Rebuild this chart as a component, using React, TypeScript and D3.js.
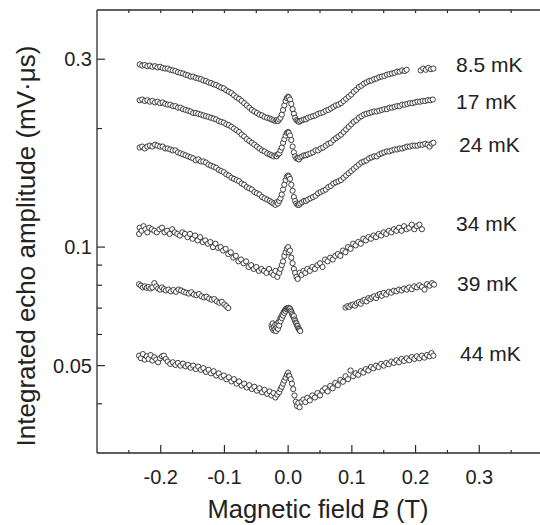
import React from 'react';
import * as d3 from 'd3';

// ---------- DATA (B in tesla, amplitude in mV·μs) ----------
const T85: [number, number][] = [
  [-0.233,0.291],[-0.229,0.289],[-0.225,0.290],[-0.221,0.288],[-0.217,0.289],[-0.213,0.287],[-0.209,0.288],[-0.205,0.286],[-0.201,0.287],[-0.197,0.285],
  [-0.193,0.284],[-0.189,0.284],[-0.185,0.282],[-0.181,0.281],[-0.177,0.280],[-0.173,0.278],[-0.169,0.277],[-0.165,0.276],[-0.161,0.274],[-0.157,0.273],
  [-0.153,0.271],[-0.149,0.271],[-0.145,0.269],[-0.141,0.268],[-0.137,0.267],[-0.133,0.265],[-0.129,0.264],[-0.125,0.262],[-0.121,0.261],[-0.117,0.259],
  [-0.113,0.258],[-0.109,0.256],[-0.105,0.254],[-0.101,0.253],[-0.097,0.250],[-0.093,0.248],[-0.089,0.246],[-0.085,0.243],[-0.081,0.240],[-0.077,0.238],
  [-0.073,0.235],[-0.069,0.232],[-0.065,0.229],[-0.061,0.226],[-0.057,0.223],[-0.053,0.221],[-0.049,0.219],[-0.045,0.217],[-0.041,0.216],[-0.037,0.214],
  [-0.033,0.213],[-0.029,0.212],[-0.026,0.211],[-0.023,0.210],[-0.020,0.209],[-0.018,0.210],[-0.016,0.209],[-0.014,0.211],[-0.012,0.213],[-0.010,0.217],
  [-0.008,0.223],[-0.006,0.229],[-0.004,0.235],[-0.002,0.239],[0.000,0.241],[0.001,0.240],[0.003,0.237],[0.005,0.231],[0.007,0.224],[0.009,0.218],
  [0.011,0.213],[0.013,0.210],[0.015,0.209],[0.017,0.208],[0.019,0.209],[0.022,0.210],[0.025,0.211],[0.028,0.211],[0.031,0.213],[0.035,0.214],
  [0.039,0.215],[0.043,0.216],[0.047,0.218],[0.051,0.219],[0.055,0.220],[0.059,0.222],[0.063,0.223],[0.067,0.225],[0.071,0.227],[0.075,0.229],
  [0.079,0.230],[0.083,0.232],[0.087,0.235],[0.091,0.238],[0.095,0.241],[0.099,0.244],[0.103,0.248],[0.107,0.251],[0.111,0.255],[0.115,0.257],
  [0.119,0.260],[0.123,0.262],[0.127,0.264],[0.131,0.265],[0.135,0.267],[0.139,0.268],[0.143,0.270],[0.147,0.271],[0.151,0.272],[0.155,0.274],
  [0.159,0.275],[0.163,0.276],[0.167,0.277],[0.171,0.279],[0.175,0.279],[0.179,0.281],[0.183,0.280],[0.186,0.282],
  [0.208,0.281],[0.212,0.284],[0.216,0.282],[0.220,0.285],[0.224,0.283],[0.228,0.284],
];

const T17: [number, number][] = [
  [-0.233,0.236],[-0.229,0.237],[-0.225,0.235],[-0.221,0.236],[-0.217,0.234],[-0.213,0.235],[-0.209,0.233],[-0.205,0.234],[-0.201,0.232],[-0.197,0.233],
  [-0.193,0.231],[-0.189,0.230],[-0.185,0.230],[-0.181,0.228],[-0.177,0.228],[-0.173,0.226],[-0.169,0.226],[-0.165,0.224],[-0.161,0.223],[-0.157,0.222],
  [-0.153,0.221],[-0.149,0.219],[-0.145,0.219],[-0.141,0.218],[-0.137,0.217],[-0.133,0.216],[-0.129,0.215],[-0.125,0.214],[-0.121,0.213],[-0.117,0.212],
  [-0.113,0.211],[-0.109,0.209],[-0.105,0.208],[-0.101,0.207],[-0.097,0.205],[-0.093,0.204],[-0.089,0.202],[-0.085,0.200],[-0.081,0.198],[-0.077,0.196],
  [-0.073,0.193],[-0.069,0.191],[-0.065,0.188],[-0.061,0.186],[-0.057,0.184],[-0.053,0.182],[-0.049,0.180],[-0.045,0.178],[-0.041,0.176],[-0.037,0.175],
  [-0.033,0.173],[-0.029,0.172],[-0.026,0.171],[-0.023,0.170],[-0.020,0.171],[-0.018,0.170],[-0.016,0.172],[-0.014,0.173],[-0.012,0.176],[-0.010,0.179],
  [-0.008,0.184],[-0.006,0.188],[-0.004,0.192],[-0.002,0.195],[0.000,0.196],[0.001,0.195],[0.003,0.192],[0.005,0.187],[0.007,0.180],[0.009,0.174],
  [0.011,0.170],[0.013,0.168],[0.015,0.168],[0.017,0.167],[0.019,0.169],[0.022,0.170],[0.025,0.171],[0.028,0.171],[0.031,0.172],[0.035,0.173],
  [0.039,0.174],[0.043,0.176],[0.047,0.176],[0.051,0.178],[0.055,0.179],[0.059,0.181],[0.063,0.183],[0.067,0.184],[0.071,0.187],[0.075,0.189],
  [0.079,0.191],[0.083,0.193],[0.087,0.196],[0.091,0.199],[0.095,0.202],[0.099,0.205],[0.103,0.208],[0.107,0.210],[0.111,0.213],[0.115,0.215],
  [0.119,0.217],[0.123,0.218],[0.127,0.219],[0.131,0.220],[0.135,0.221],[0.139,0.221],[0.143,0.222],[0.147,0.223],[0.151,0.224],[0.155,0.224],
  [0.159,0.226],[0.163,0.226],[0.167,0.227],[0.171,0.228],[0.175,0.228],[0.179,0.230],[0.183,0.230],[0.187,0.231],[0.191,0.232],[0.195,0.232],
  [0.199,0.233],[0.203,0.234],[0.207,0.234],[0.211,0.235],[0.215,0.235],[0.219,0.236],[0.223,0.236],[0.227,0.237],
];

const T24: [number, number][] = [
  [-0.233,0.179],[-0.229,0.180],[-0.225,0.178],[-0.221,0.180],[-0.217,0.181],[-0.213,0.180],[-0.209,0.182],[-0.205,0.181],[-0.201,0.180],[-0.197,0.180],
  [-0.193,0.178],[-0.189,0.178],[-0.185,0.177],[-0.181,0.176],[-0.177,0.176],[-0.173,0.174],[-0.169,0.173],[-0.165,0.172],[-0.161,0.171],[-0.157,0.170],
  [-0.153,0.169],[-0.149,0.168],[-0.145,0.166],[-0.141,0.167],[-0.137,0.165],[-0.133,0.165],[-0.129,0.164],[-0.125,0.162],[-0.121,0.161],[-0.117,0.160],
  [-0.113,0.159],[-0.109,0.157],[-0.105,0.156],[-0.101,0.155],[-0.097,0.153],[-0.093,0.152],[-0.089,0.150],[-0.085,0.149],[-0.081,0.148],[-0.077,0.147],
  [-0.073,0.145],[-0.069,0.144],[-0.065,0.142],[-0.061,0.141],[-0.057,0.140],[-0.053,0.138],[-0.049,0.137],[-0.045,0.136],[-0.041,0.134],[-0.037,0.133],
  [-0.033,0.132],[-0.029,0.131],[-0.026,0.130],[-0.023,0.129],[-0.020,0.128],[-0.018,0.130],[-0.016,0.129],[-0.014,0.131],[-0.012,0.133],[-0.010,0.136],
  [-0.008,0.140],[-0.006,0.144],[-0.004,0.148],[-0.002,0.151],[0.000,0.152],[0.001,0.151],[0.003,0.149],[0.005,0.144],[0.007,0.139],[0.009,0.134],
  [0.011,0.131],[0.013,0.129],[0.015,0.128],[0.017,0.128],[0.019,0.129],[0.022,0.130],[0.025,0.131],[0.028,0.131],[0.031,0.132],[0.035,0.133],
  [0.039,0.134],[0.043,0.135],[0.047,0.137],[0.051,0.138],[0.055,0.139],[0.059,0.140],[0.063,0.142],[0.067,0.143],[0.071,0.145],[0.075,0.146],
  [0.079,0.147],[0.083,0.148],[0.087,0.150],[0.091,0.152],[0.095,0.154],[0.099,0.156],[0.103,0.158],[0.107,0.160],[0.111,0.162],[0.115,0.164],
  [0.119,0.165],[0.123,0.166],[0.127,0.168],[0.131,0.169],[0.135,0.170],[0.139,0.170],[0.143,0.172],[0.147,0.173],[0.151,0.174],[0.155,0.175],
  [0.159,0.175],[0.163,0.176],[0.167,0.177],[0.171,0.177],[0.175,0.178],[0.179,0.178],[0.183,0.179],[0.187,0.180],[0.191,0.180],[0.195,0.181],
  [0.199,0.181],[0.203,0.181],[0.207,0.182],[0.211,0.182],[0.215,0.183],[0.219,0.182],[0.222,0.180],[0.225,0.183],[0.228,0.184],
];

const T34: [number, number][] = [
  [-0.234,0.108],[-0.233,0.112],[-0.230,0.110],[-0.227,0.113],[-0.224,0.111],[-0.221,0.109],[-0.218,0.112],[-0.214,0.111],[-0.210,0.110],[-0.206,0.109],
  [-0.202,0.111],[-0.198,0.112],[-0.194,0.109],[-0.190,0.110],[-0.186,0.108],[-0.182,0.111],[-0.178,0.109],[-0.174,0.108],[-0.170,0.107],[-0.166,0.109],
  [-0.162,0.108],[-0.158,0.106],[-0.154,0.108],[-0.150,0.105],[-0.146,0.107],[-0.142,0.104],[-0.138,0.106],[-0.134,0.103],[-0.130,0.104],[-0.126,0.102],
  [-0.122,0.103],[-0.118,0.100],[-0.114,0.102],[-0.110,0.0995],[-0.106,0.100],[-0.102,0.098],[-0.098,0.099],[-0.094,0.096],[-0.090,0.097],[-0.086,0.094],
  [-0.082,0.095],[-0.078,0.092],[-0.074,0.093],[-0.070,0.091],[-0.066,0.092],[-0.062,0.089],[-0.058,0.090],[-0.054,0.088],[-0.050,0.089],[-0.046,0.087],
  [-0.042,0.088],[-0.038,0.087],[-0.034,0.086],[-0.030,0.088],[-0.026,0.086],[-0.023,0.085],[-0.020,0.087],[-0.017,0.084],[-0.014,0.086],[-0.012,0.088],
  [-0.010,0.090],[-0.008,0.092],[-0.006,0.095],[-0.004,0.097],[-0.002,0.099],[0.000,0.100],[0.001,0.097],[0.003,0.098],[0.005,0.094],[0.007,0.091],
  [0.009,0.088],[0.011,0.086],[0.013,0.084],[0.015,0.083],[0.018,0.086],[0.021,0.085],[0.024,0.087],[0.027,0.086],[0.030,0.088],[0.034,0.087],
  [0.038,0.089],[0.042,0.088],[0.046,0.090],[0.050,0.091],[0.054,0.089],[0.058,0.093],[0.062,0.092],[0.066,0.094],[0.070,0.093],[0.074,0.095],
  [0.078,0.096],[0.082,0.095],[0.086,0.098],[0.090,0.097],[0.094,0.100],[0.098,0.099],[0.102,0.102],[0.106,0.101],[0.110,0.103],[0.114,0.102],
  [0.118,0.105],[0.122,0.104],[0.126,0.106],[0.130,0.105],[0.134,0.107],[0.138,0.106],[0.142,0.108],[0.146,0.107],[0.150,0.109],[0.154,0.108],
  [0.158,0.110],[0.162,0.109],[0.166,0.111],[0.170,0.110],[0.174,0.112],[0.178,0.110],[0.182,0.113],[0.186,0.111],[0.190,0.112],[0.194,0.114],
  [0.198,0.111],[0.202,0.113],[0.206,0.114],[0.210,0.111],
];

const T39: [number, number][] = [
  [-0.234,0.0805],[-0.231,0.0798],[-0.228,0.0790],[-0.225,0.0795],[-0.222,0.0788],[-0.219,0.0792],[-0.216,0.0785],[-0.213,0.0790],[-0.210,0.0810],[-0.207,0.0795],
  [-0.204,0.0785],[-0.201,0.0780],[-0.198,0.0790],[-0.195,0.0782],[-0.192,0.0776],[-0.188,0.0780],[-0.184,0.0772],[-0.180,0.0778],[-0.176,0.0770],[-0.172,0.0780],
  [-0.168,0.0776],[-0.164,0.0770],[-0.160,0.0766],[-0.156,0.0762],[-0.152,0.0768],[-0.148,0.0758],[-0.144,0.0755],[-0.140,0.0760],[-0.136,0.0750],[-0.132,0.0745],
  [-0.128,0.0748],[-0.124,0.0740],[-0.120,0.0735],[-0.116,0.0738],[-0.112,0.0728],[-0.108,0.0722],[-0.104,0.0726],[-0.100,0.0715],[-0.097,0.0708],[-0.094,0.0700],
  [-0.026,0.0632],[-0.025,0.0622],[-0.024,0.0640],[-0.023,0.0615],[-0.022,0.0628],[-0.021,0.0618],[-0.020,0.0635],[-0.019,0.0612],[-0.018,0.0625],[-0.017,0.0638],
  [-0.016,0.0620],[-0.015,0.0645],[-0.014,0.0632],[-0.013,0.0655],[-0.012,0.0648],[-0.011,0.0665],[-0.010,0.0660],[-0.009,0.0675],[-0.008,0.0670],[-0.007,0.0684],
  [-0.006,0.0680],[-0.005,0.0692],[-0.004,0.0688],[-0.003,0.0698],[-0.002,0.0695],[-0.001,0.0700],[0.000,0.0698],[0.001,0.0701],[0.002,0.0696],[0.003,0.0698],
  [0.004,0.0690],[0.005,0.0685],[0.006,0.0678],[0.007,0.0672],[0.008,0.0665],[0.009,0.0668],[0.010,0.0655],[0.011,0.0650],[0.012,0.0643],[0.013,0.0640],
  [0.014,0.0632],[0.015,0.0630],[0.016,0.0622],[0.017,0.0620],[0.018,0.0615],[0.019,0.0612],
  [0.090,0.0702],[0.093,0.0708],[0.096,0.0705],[0.099,0.0712],[0.102,0.0715],[0.105,0.0710],[0.108,0.0720],[0.111,0.0725],[0.114,0.0718],[0.117,0.0730],
  [0.120,0.0735],[0.123,0.0728],[0.126,0.0742],[0.129,0.0738],[0.132,0.0745],[0.135,0.0750],[0.138,0.0742],[0.141,0.0755],[0.144,0.0760],[0.147,0.0752],
  [0.150,0.0765],[0.154,0.0758],[0.158,0.0770],[0.162,0.0766],[0.166,0.0775],[0.170,0.0772],[0.174,0.0780],[0.178,0.0776],[0.182,0.0785],[0.186,0.0780],
  [0.190,0.0790],[0.194,0.0782],[0.198,0.0795],[0.202,0.0790],[0.206,0.0800],[0.210,0.0792],[0.214,0.0780],[0.218,0.0805],[0.222,0.0798],[0.226,0.0810],
  [0.229,0.0803],
];

const T44: [number, number][] = [
  [-0.234,0.0530],[-0.231,0.0522],[-0.228,0.0535],[-0.225,0.0518],[-0.222,0.0528],[-0.219,0.0520],[-0.216,0.0532],[-0.213,0.0515],[-0.210,0.0525],[-0.207,0.0518],
  [-0.204,0.0510],[-0.201,0.0522],[-0.198,0.0528],[-0.195,0.0530],[-0.192,0.0520],[-0.189,0.0512],[-0.185,0.0505],[-0.181,0.0510],[-0.177,0.0502],[-0.173,0.0508],
  [-0.169,0.0500],[-0.165,0.0506],[-0.161,0.0498],[-0.157,0.0502],[-0.153,0.0494],[-0.149,0.0500],[-0.145,0.0490],[-0.141,0.0497],[-0.137,0.0488],[-0.133,0.0493],
  [-0.129,0.0482],[-0.125,0.0488],[-0.121,0.0478],[-0.117,0.0484],[-0.113,0.0472],[-0.109,0.0478],[-0.105,0.0468],[-0.101,0.0472],[-0.097,0.0462],[-0.093,0.0467],
  [-0.089,0.0456],[-0.085,0.0462],[-0.081,0.0450],[-0.077,0.0456],[-0.073,0.0445],[-0.069,0.0450],[-0.065,0.0440],[-0.061,0.0446],[-0.057,0.0436],[-0.053,0.0442],
  [-0.049,0.0432],[-0.045,0.0438],[-0.041,0.0428],[-0.037,0.0434],[-0.033,0.0424],[-0.029,0.0430],[-0.026,0.0420],[-0.023,0.0426],[-0.020,0.0415],[-0.017,0.0422],
  [-0.014,0.0428],[-0.012,0.0436],[-0.010,0.0442],[-0.008,0.0450],[-0.006,0.0458],[-0.004,0.0466],[-0.002,0.0474],[0.000,0.0480],[0.001,0.0472],[0.002,0.0470],
  [0.004,0.0462],[0.006,0.0450],[0.008,0.0436],[0.010,0.0420],[0.012,0.0405],[0.014,0.0395],[0.016,0.0402],[0.018,0.0392],[0.021,0.0405],[0.024,0.0410],
  [0.027,0.0404],[0.030,0.0414],[0.034,0.0408],[0.038,0.0420],[0.042,0.0415],[0.046,0.0426],[0.050,0.0420],[0.054,0.0432],[0.058,0.0438],[0.062,0.0430],
  [0.066,0.0444],[0.070,0.0438],[0.074,0.0452],[0.078,0.0446],[0.082,0.0460],[0.086,0.0455],[0.090,0.0470],[0.094,0.0462],[0.098,0.0486],[0.102,0.0470],
  [0.106,0.0478],[0.110,0.0474],[0.114,0.0484],[0.118,0.0480],[0.122,0.0490],[0.126,0.0486],[0.130,0.0496],[0.134,0.0492],[0.138,0.0500],[0.142,0.0496],
  [0.146,0.0505],[0.150,0.0500],[0.154,0.0508],[0.158,0.0504],[0.162,0.0512],[0.166,0.0508],[0.170,0.0516],[0.174,0.0510],[0.178,0.0520],[0.182,0.0514],
  [0.186,0.0522],[0.190,0.0516],[0.194,0.0526],[0.198,0.0520],[0.202,0.0528],[0.206,0.0522],[0.210,0.0530],[0.214,0.0524],[0.218,0.0532],[0.222,0.0528],
  [0.225,0.0538],[0.228,0.0530],
];

const seriesLabels = ['8.5 mK', '17 mK', '24 mK', '34 mK', '39 mK', '44 mK'];
const seriesData = [T85, T17, T24, T34, T39, T44];

const xTickValues = [-0.2, -0.1, 0.0, 0.1, 0.2, 0.3];
const xTickLabels = ['-0.2', '-0.1', '0.0', '0.1', '0.2', '0.3'];
const xMinorTicks = [-0.25, -0.15, -0.05, 0.05, 0.15, 0.25, 0.35];
const yTickValues = [0.05, 0.1, 0.3];
const yTickLabels = ['0.05', '0.1', '0.3'];
const yMinorTicks = [0.04, 0.06, 0.07, 0.08, 0.09, 0.2];

// ---------- LAYOUT ----------
const W = 540, H = 525;
const L = 97, R = 543, T = 10, B = 453;
const labelPos = [
  { x: 456, y: 72 },
  { x: 456, y: 108.5 },
  { x: 459, y: 152 },
  { x: 456, y: 231 },
  { x: 457, y: 291 },
  { x: 460, y: 361 },
];
const FONT = '"Liberation Sans", Arial, Helvetica, sans-serif';
const INK = '#222';

export default function App() {
  const x = d3.scaleLinear().domain([-0.3, 0.4]).range([L, R]);
  const y = d3.scaleLog().domain([0.03, 0.4]).range([B, T]);

  return (
    <svg width={W} height={H} style={{ position: 'absolute', left: 0, top: 0, background: '#fff' }}
      fontFamily={FONT}>
      <rect x={0} y={0} width={W} height={H} fill="#fff" />
      {/* frame */}
      <g stroke="#2a2a2a" strokeWidth={1.3} fill="none">
        <line x1={L} y1={T} x2={L} y2={B} />
        <line x1={L} y1={B} x2={R} y2={B} />
        <line x1={L} y1={T} x2={R} y2={T} />
        <line x1={R} y1={T} x2={R} y2={B} />
      </g>
      {/* x ticks */}
      <g stroke="#2a2a2a" strokeWidth={1.2}>
        {xTickValues.map((v) => (
          <line key={'xb' + v} x1={x(v)} x2={x(v)} y1={B} y2={B - 8} />
        ))}
        {xMinorTicks.map((v) => (
          <line key={'xm' + v} x1={x(v)} x2={x(v)} y1={B} y2={B - 3} />
        ))}
        {[...xTickValues, ...xMinorTicks].map((v) => (
          <line key={'xt' + v} x1={x(v)} x2={x(v)} y1={T} y2={T + 3} />
        ))}
      </g>
      <g fill={INK} fontSize={20} textAnchor="middle">
        {xTickValues.map((v, i) => (
          <text key={'xl' + v} x={x(v)} y={483.5}>{xTickLabels[i]}</text>
        ))}
      </g>
      {/* y ticks */}
      <g stroke="#2a2a2a" strokeWidth={1.2}>
        {yTickValues.map((v) => (
          <line key={'yb' + v} x1={L} x2={L + 8} y1={y(v)} y2={y(v)} />
        ))}
        {yMinorTicks.map((v) => (
          <line key={'ym' + v} x1={L} x2={L + 5} y1={y(v)} y2={y(v)} />
        ))}
      </g>
      <g fill={INK} fontSize={20} textAnchor="end">
        {yTickValues.map((v, i) => (
          <text key={'yl' + v} x={92} y={y(v) + 7}>{yTickLabels[i]}</text>
        ))}
      </g>
      {/* axis titles */}
      <text x={318} y={517.5} fontSize={25.5} fill={INK} textAnchor="middle">
        Magnetic field <tspan fontStyle="italic">B</tspan> (T)
      </text>
      <text transform="translate(35,246) rotate(-90)" fontSize={26} fill={INK} textAnchor="middle">
        Integrated echo amplitude (mV·μs)
      </text>
      {/* data */}
      {seriesData.map((data, si) => (
        <g key={'s' + si} fill="#fff" stroke="#2b2b2b" strokeWidth={0.9}>
          {data.map((d, i) => (
            <circle key={i} cx={x(d[0])} cy={y(d[1])} r={2.6} />
          ))}
        </g>
      ))}
      {/* series labels */}
      <g fill={INK} fontSize={21}>
        {seriesLabels.map((s, i) => (
          <text key={s} x={labelPos[i].x} y={labelPos[i].y}>{s}</text>
        ))}
      </g>
    </svg>
  );
}
